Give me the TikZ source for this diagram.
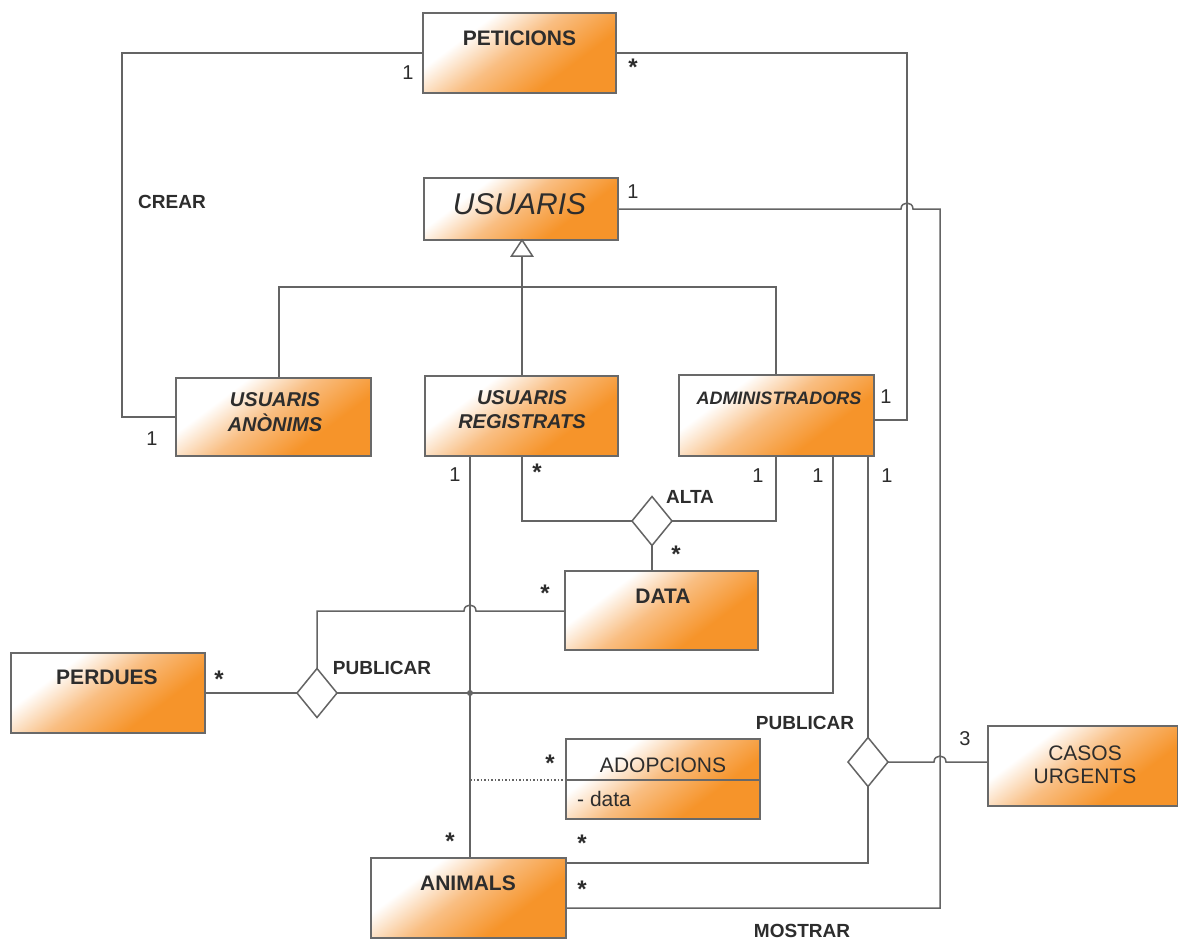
\documentclass[tikz,border=0pt]{standalone}
\usepackage{fontspec}
\setmainfont{Liberation Sans}
\usetikzlibrary{shapes.geometric}

\definecolor{boxorange}{RGB}{246,148,42}
\definecolor{boxmid}{RGB}{249,190,130}
\definecolor{edgegray}{RGB}{105,105,105}
\definecolor{linegray}{RGB}{100,100,100}
\definecolor{ink}{RGB}{45,45,45}

% diagonal fill of the classes: white corner top left, orange bottom right
\pgfdeclareverticalshading{classfill}{100bp}{color(0bp)=(boxorange); color(34bp)=(boxorange);
  color(52bp)=(boxmid); color(68bp)=(white); color(100bp)=(white)}

\pgfdeclarelayer{paper}
\pgfdeclarelayer{wires}
\pgfsetlayers{paper,wires,main}

\tikzset{
  cls/.style={draw=edgegray, line width=1.5pt, shading=classfill, shading angle=37,
    anchor=north west, inner sep=0pt, outer sep=0pt},
  boxtxt/.style={text=ink, inner sep=0pt, align=center,
    font=\bfseries\fontsize{21}{25}\selectfont},
  plaintxt/.style={text=ink, inner sep=0pt, align=center,
    font=\fontsize{21}{23}\selectfont},
  reltxt/.style={text=ink, inner sep=0pt, font=\bfseries\fontsize{19}{22}\selectfont},
  numtxt/.style={text=ink, inner sep=0pt, font=\fontsize{20}{22}\selectfont},
  startxt/.style={text=ink, inner sep=0pt, anchor=base, font=\bfseries\fontsize{24}{24}\selectfont},
  rel/.style={draw=linegray, line width=1.5pt},
  rhomb/.style={diamond, draw=linegray, line width=1.5pt, fill=white, inner sep=0pt,
    outer sep=0pt, minimum width=40pt, minimum height=49pt},
}

\begin{document}
\begin{tikzpicture}[x=1pt, y=-1pt]
\begin{pgfonlayer}{paper}
\fill[white] (0,0) rectangle (1178,940);
\end{pgfonlayer}
\useasboundingbox (0,0) rectangle (1178,940);

% ---------- classes ----------
\node[cls, minimum width=193pt, minimum height=80pt] (pet) at (423,13) {};
\node[cls, minimum width=194pt, minimum height=62pt] (usu) at (424,178) {};
\node[cls, minimum width=195pt, minimum height=78pt] (ano) at (176,378) {};
\node[cls, minimum width=193pt, minimum height=80pt] (reg) at (425,376) {};
\node[cls, minimum width=195pt, minimum height=81pt] (adm) at (679,375) {};
\node[cls, minimum width=193pt, minimum height=79pt] (dat) at (565,571) {};
\node[cls, minimum width=194pt, minimum height=80pt] (per) at (11,653) {};
\node[cls, minimum width=194pt, minimum height=80pt] (ado) at (566,739) {};
\node[cls, minimum width=190pt, minimum height=80pt] (cas) at (988,726) {};
\node[cls, minimum width=195pt, minimum height=80pt] (ani) at (371,858) {};

% compartment line of ADOPCIONS
\draw[draw=edgegray, line width=1.5pt] (ado.west |- 0,780) -- (ado.east |- 0,780);

% ---------- relation diamonds ----------
\node[rhomb] (alta) at (652,521) {};
\node[rhomb] (pubL) at (317,693) {};
\node[rhomb] (pubR) at (868,762) {};

% ---------- class names ----------
\node[boxtxt] (petT) at (519.5,38) {PETICIONS};
\node[text=ink, inner sep=0pt, font=\itshape\fontsize{30}{32}\selectfont] (usuT) at (519.5,204) {USUARIS};
\node[boxtxt, font=\bfseries\itshape\fontsize{20}{25}\selectfont] (anoT) at (275,412) {USUARIS\\ANÒNIMS};
\node[boxtxt, font=\bfseries\itshape\fontsize{20}{24}\selectfont] (regT) at (522,410) {USUARIS\\REGISTRATS};
\node[boxtxt, font=\bfseries\itshape\fontsize{18}{22}\selectfont] (admT) at (779,398) {ADMINISTRADORS};
\node[boxtxt] (datT) at (663,596) {DATA};
\node[boxtxt] (perT) at (107,677) {PERDUES};
\node[plaintxt] (adoT) at (663,765) {ADOPCIONS};
\node[plaintxt, anchor=west] (adoA) at (577,799) {- data};
\node[plaintxt] (casT) at (1085,765) {CASOS\\URGENTS};
\node[boxtxt] (aniT) at (468,883) {ANIMALS};

% ---------- connectors ----------
\begin{pgfonlayer}{wires}
% CREAR
\draw[rel] (pet.west) -| (122,417) -- (ano.west);
% PETICIONS -- ADMINISTRADORS
\draw[rel] (pet.east) -| (907,420) -- (adm.east |- 0,420);
% MOSTRAR: USUARIS -- ANIMALS (hop over x = 907)
\draw[rel] (usu.east) -- (901,209) .. controls (901,201) and (913,201) .. (913,209)
  -- (940,209) -- (940,908) -- (ani.east |- 0,908);

% generalisation
\draw[rel] (usu.south -| 522,0) -- (reg.north -| 522,0);
\draw[rel] (ano.north -| 279,0) -- (279,287) -- (776,287) -- (adm.north -| 776,0);

% ALTA
\draw[rel] (reg.south -| 522,0) |- (alta.west);
\draw[rel] (adm.south -| 776,0) |- (alta.east);
\draw[rel] (alta.south) -- (alta.south |- dat.north);

% PUBLICAR (left)
\draw[rel] (per.east) -- (pubL.west);
\draw[rel] (pubL.north) -- (317,611) -- (464,611) .. controls (464,603) and (476,603) .. (476,611)
  -- (dat.west |- 0,611);
\draw[rel] (pubL.east) -- (833,693) -- (adm.south -| 833,0);

% USUARIS REGISTRATS -- ANIMALS
\draw[rel] (reg.south -| 470,0) -- (ani.north -| 470,0);
% association class ADOPCIONS
\draw[linegray, line width=1.5pt, dotted] (470,780) -- (ado.west |- 0,780);

% PUBLICAR (right)
\draw[rel] (adm.south -| 868,0) -- (pubR.north);
\draw[rel] (pubR.east) -- (934,762) .. controls (934,754) and (946,754) .. (946,762)
  -- (cas.west |- 0,762);
\draw[rel] (pubR.south) |- (ani.east |- 0,863);
\end{pgfonlayer}

% junction dot and generalisation triangle
\fill[linegray] (470,693) circle (3pt);
\draw[rel, fill=white] (usu.south -| 522,0) -- (511.5,256) -- (532.5,256) -- cycle;

% ---------- relation names ----------
\node[reltxt] (crearL) at (172,202) {CREAR};
\node[reltxt] (altaL) at (690,497) {ALTA};
\node[reltxt] (pubLL) at (382,668) {PUBLICAR};
\node[reltxt] (pubRL) at (805,723) {PUBLICAR};
\node[reltxt] (mostL) at (802,931) {MOSTRAR};

% ---------- multiplicities ----------
\node[numtxt] (m1) at (408,73) {1};
\node[startxt] (m2) at (633,75) {*};
\node[numtxt] (m3) at (633,192) {1};
\node[numtxt] (m4) at (152,439) {1};
\node[numtxt] (m5) at (886,397) {1};
\node[numtxt] (m6) at (455,475) {1};
\node[startxt] (m7) at (537,480) {*};
\node[numtxt] (m8) at (758,476) {1};
\node[numtxt] (m9) at (818,476) {1};
\node[numtxt] (m10) at (887,476) {1};
\node[startxt] (m11) at (676,562) {*};
\node[startxt] (m12) at (545,601) {*};
\node[startxt] (m13) at (219,687) {*};
\node[startxt] (m14) at (550,771) {*};
\node[numtxt] (m15) at (965,739) {3};
\node[startxt] (m16) at (450,849) {*};
\node[startxt] (m17) at (582,851) {*};
\node[startxt] (m18) at (582,897) {*};
\end{tikzpicture}
\end{document}
